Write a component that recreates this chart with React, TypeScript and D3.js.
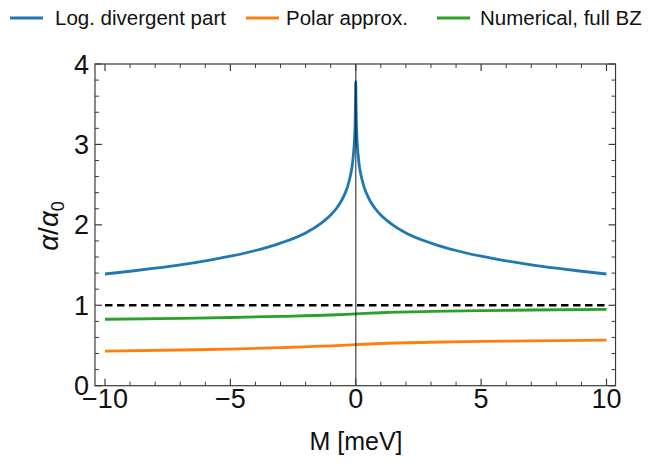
import React from "react";
import * as d3 from "d3";

const mBlue = [-10, -9, -8, -7, -6, -5, -4, -3, -2, -1.5, -1, -0.75, -0.5, -0.25, -0.1, -0.05, -0.02, -0.01, 0, 0.01, 0.02, 0.05, 0.1, 0.25, 0.5, 0.75, 1, 1.5, 2, 3, 4, 5, 6, 7, 8, 9, 10];
const logDivergent = [1.389, 1.423, 1.461, 1.503, 1.552, 1.61, 1.681, 1.773, 1.9, 1.993, 2.122, 2.213, 2.342, 2.563, 2.854, 3.075, 3.366, 3.586, 3.78, 3.586, 3.366, 3.075, 2.854, 2.563, 2.342, 2.213, 2.122, 1.993, 1.9, 1.773, 1.681, 1.61, 1.552, 1.503, 1.461, 1.423, 1.389];

const mOther = [-10, -7, -5, -3, -1, 0, 1, 3, 5, 7, 10];
const numericalFullBZ = [0.826, 0.838, 0.848, 0.862, 0.879, 0.893, 0.907, 0.923, 0.933, 0.941, 0.95];
const polarApprox = [0.43, 0.444, 0.456, 0.474, 0.495, 0.51, 0.525, 0.54, 0.55, 0.558, 0.567];

const xMajorTicks = [-10, -5, 0, 5, 10];
const yMajorTicks = [0, 1, 2, 3, 4];
const xMinorTicks = d3.range(-10, 11, 1).filter((v) => v % 5 !== 0);
const yMinorTicks = d3.range(0, 4.01, 0.2).filter((v) => Math.abs(v - Math.round(v)) > 1e-6);

const legendItems = [
  { label: "Log. divergent part", color: "#1f77b4", lx: 10, tx: 55 },
  { label: "Polar approx.", color: "#ff7f0e", lx: 246, tx: 286 },
  { label: "Numerical, full BZ", color: "#2ca02c", lx: 437, tx: 480 },
];

const fmt = (v: number) => (v < 0 ? "\u2212" + Math.abs(v) : String(v));

export default function App() {
  const x = d3.scaleLinear().domain([-10, 10]).range([105, 606.5]);
  const y = d3.scaleLinear().domain([0, 4]).range([385.7, 64]);
  const left = x(-10.4);
  const right = x(10.36);
  const top = y(4);
  const bottom = y(0);

  const line = (xs: number[], ys: number[]) =>
    d3
      .line<number>()
      .x((_, i) => x(xs[i]))
      .y((d) => y(d))
      .curve(d3.curveMonotoneX)(ys) as string;

  const frameColor = "#3a3a3a";
  const font = "'Liberation Sans', Arial, sans-serif";

  return (
    <svg width={657} height={466} style={{ position: "absolute", left: 0, top: 0 }} fontFamily={font}>
      <rect width={657} height={466} fill="#fff" />
      {/* legend */}
      {legendItems.map((it) => (
        <g key={it.label}>
          <line x1={it.lx} x2={it.lx + 33} y1={18} y2={18} stroke={it.color} strokeWidth={3} />
          <text x={it.tx} y={25} fontSize={20.5} fill="#111">{it.label}</text>
        </g>
      ))}

      {/* curves */}
      <line x1={x(-10)} x2={x(10)} y1={y(1)} y2={y(1)} stroke="#000" strokeWidth={2.5} strokeDasharray="7.5,4.5" />
      <path d={line(mOther, polarApprox)} fill="none" stroke="#ff7f0e" strokeWidth={2.8} />
      <path d={line(mOther, numericalFullBZ)} fill="none" stroke="#2ca02c" strokeWidth={2.8} />
      <path d={line(mBlue, logDivergent)} fill="none" stroke="#1f77b4" strokeWidth={2.8} />
      <line x1={x(0)} x2={x(0)} y1={top} y2={bottom} stroke="#000" strokeOpacity={0.6} strokeWidth={1.5} />

      {/* frame */}
      <rect x={left} y={top} width={right - left} height={bottom - top} fill="none" stroke={frameColor} strokeWidth={1.2} />
      {xMajorTicks.map((v) => (
        <g key={"xM" + v}>
          <line x1={x(v)} x2={x(v)} y1={bottom} y2={bottom - 7} stroke={frameColor} strokeWidth={1.2} />
          <line x1={x(v)} x2={x(v)} y1={top} y2={top + 7} stroke={frameColor} strokeWidth={1.2} />
          <text x={x(v)} y={408} fontSize={27} textAnchor="middle" fill="#111">{fmt(v)}</text>
        </g>
      ))}
      {xMinorTicks.map((v) => (
        <g key={"xm" + v}>
          <line x1={x(v)} x2={x(v)} y1={bottom} y2={bottom - 4} stroke={frameColor} strokeWidth={1} />
          <line x1={x(v)} x2={x(v)} y1={top} y2={top + 4} stroke={frameColor} strokeWidth={1} />
        </g>
      ))}
      {yMajorTicks.map((v) => (
        <g key={"yM" + v}>
          <line x1={left} x2={left + 7} y1={y(v)} y2={y(v)} stroke={frameColor} strokeWidth={1.2} />
          <line x1={right} x2={right - 7} y1={y(v)} y2={y(v)} stroke={frameColor} strokeWidth={1.2} />
          <text x={89} y={y(v) + 9.5} fontSize={27} textAnchor="end" fill="#111">{fmt(v)}</text>
        </g>
      ))}
      {yMinorTicks.map((v) => (
        <g key={"ym" + v}>
          <line x1={left} x2={left + 4} y1={y(v)} y2={y(v)} stroke={frameColor} strokeWidth={1} />
          <line x1={right} x2={right - 4} y1={y(v)} y2={y(v)} stroke={frameColor} strokeWidth={1} />
        </g>
      ))}

      {/* axis labels */}
      <text x={356} y={450} fontSize={25} textAnchor="middle" fill="#111">M [meV]</text>
      <text transform="translate(58,226) rotate(-90)" fontSize={28} textAnchor="middle" fill="#111">
        <tspan fontStyle="italic">α</tspan>
        <tspan>/</tspan>
        <tspan fontStyle="italic">α</tspan>
        <tspan fontSize={18} dy={6}>0</tspan>
      </text>
    </svg>
  );
}
